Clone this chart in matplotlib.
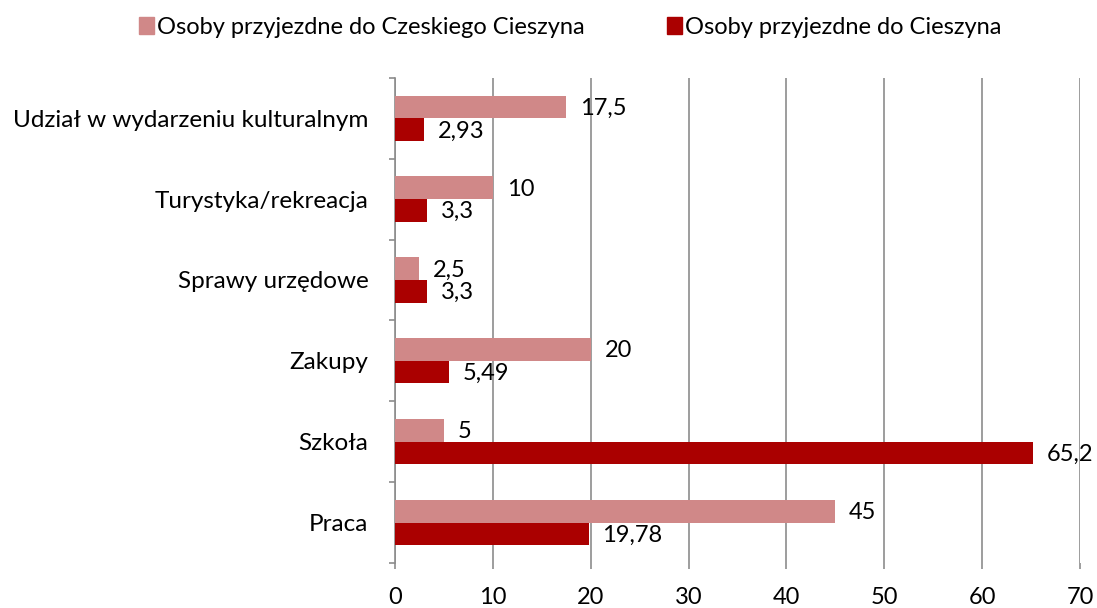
#!/usr/bin/env python3
"""Cele przyjazdow - wykres slupkowy poziomy"""

import numpy as np
import matplotlib; matplotlib.use('Agg')
import matplotlib.pyplot as plt
from matplotlib.patches import Patch

categories = ['Praca', 'Szkoła', 'Zakupy', 'Sprawy urzędowe',
              'Turystyka/rekreacja', 'Udział w wydarzeniu kulturalnym']
czeski = [45, 5, 20, 2.5, 10, 17.5]
cieszyn = [19.78, 65.2, 5.49, 3.3, 3.3, 2.93]
czeski_lbl = ['45', '5', '20', '2,5', '10', '17,5']
cieszyn_lbl = ['19,78', '65,2', '5,49', '3,3', '3,3', '2,93']
series = ['Osoby przyjezdne do Czeskiego Cieszyna', 'Osoby przyjezdne do Cieszyna']

c_pink = '#D08888'
c_red = '#AA0000'
c_grid = '#8C8C8C'
fs = 17

plt.rcParams['font.family'] = ['Lato', 'DejaVu Sans']

fig = plt.figure(figsize=(10.97, 6.08), dpi=100)
ax = fig.add_axes([0.360, 0.074, 0.6245, 0.798])

y = np.arange(len(categories))
h = 0.28
ax.barh(y + h / 2, czeski, height=h, color=c_pink, zorder=3)
ax.barh(y - h / 2, cieszyn, height=h, color=c_red, zorder=3)

for i in range(len(categories)):
    ax.annotate(czeski_lbl[i], (czeski[i], y[i] + h / 2), xytext=(10, -1),
                textcoords='offset points', va='center', ha='left', fontsize=fs)
    ax.annotate(cieszyn_lbl[i], (cieszyn[i], y[i] - h / 2), xytext=(10, -1),
                textcoords='offset points', va='center', ha='left', fontsize=fs)

ax.set_xlim(0, 70)
ax.set_ylim(-0.5, len(categories) - 0.5)
ax.set_xticks(np.arange(0, 71, 10))
ax.set_yticks(y)
ax.set_yticklabels(categories)
ax.set_yticks(np.arange(-0.5, len(categories), 1), minor=True)
ax.tick_params(axis='y', which='major', length=0, pad=19, labelsize=17.5)
ax.tick_params(axis='y', which='minor', length=4.5, color=c_grid, width=1.2)
ax.tick_params(axis='x', length=4.5, color=c_grid, width=1.2, labelsize=fs, pad=13)
ax.xaxis.grid(True, color=c_grid, linewidth=1.2, zorder=0)
for s in ['top', 'right', 'bottom']:
    ax.spines[s].set_visible(False)
ax.spines['left'].set_color(c_grid)
ax.spines['left'].set_linewidth(1.2)

handles = [Patch(color=c_pink), Patch(color=c_red)]
fig.legend(handles, series, loc='center', bbox_to_anchor=(0.52, 0.955),
           ncol=2, frameon=False, fontsize=fs, handlelength=0.6, handleheight=0.7,
           handletextpad=0.15, columnspacing=3.5)

fig.savefig('out.png', dpi=100)
